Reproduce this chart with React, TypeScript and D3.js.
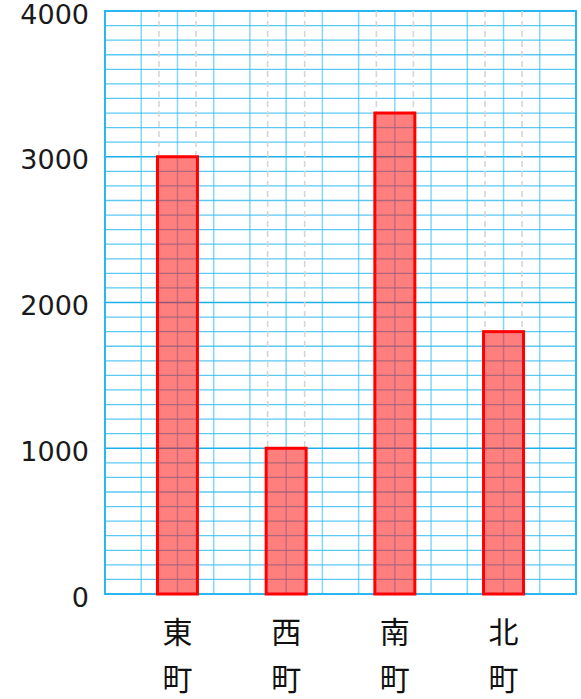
import React from "react";
import * as d3 from "d3";

const categories = ["東町", "西町", "南町", "北町"];
const values = [3000, 1000, 3300, 1800];
const yTicks = [0, 1000, 2000, 3000, 4000];
const minorStep = 100;

const W = 581;
const H = 699;
const M = { left: 105, right: 5, top: 11, bottom: 105 };

export default function App() {
  const x = d3
    .scalePoint<string>()
    .domain(categories)
    .range([M.left, W - M.right])
    .padding(2 / 3);
  const y = d3.scaleLinear().domain([0, 4000]).range([H - M.bottom, M.top]);
  const cell = x.step() / 3;
  const nCells = Math.round((W - M.right - M.left) / cell);
  const vLines = d3.range(nCells + 1).map((i) => M.left + i * cell);
  const hLines = d3.range(0, 4000 + minorStep, minorStep);
  const barW = 40;
  const dashOff = 18.5;
  const lineColor = "#33bcf0";

  return (
    <svg
      width={W}
      height={H}
      style={{ position: "absolute", left: 0, top: 0, background: "#fff" }}
    >
      {/* grid */}
      <g>
        {hLines.map((v) => (
          <line
            key={"h" + v}
            x1={M.left}
            x2={W - M.right}
            y1={y(v)}
            y2={y(v)}
            stroke={v % 1000 === 0 ? "#1eaee8" : lineColor}
            strokeOpacity={v % 1000 === 0 ? 1 : 0.8}
            strokeWidth={v % 1000 === 0 ? 1.7 : 1.3}
          />
        ))}
        {vLines.map((xv, i) => (
          <line
            key={"v" + i}
            x1={xv}
            x2={xv}
            y1={M.top}
            y2={H - M.bottom}
            stroke={lineColor}
            strokeOpacity={0.6}
            strokeWidth={1.5}
          />
        ))}
        {/* border */}
        <rect
          x={M.left}
          y={M.top}
          width={W - M.right - M.left}
          height={H - M.bottom - M.top}
          fill="none"
          stroke="#2ab6ee"
          strokeWidth={2}
        />
      </g>
      {/* dashed guide lines */}
      {categories.map((c, i) => (
        <g key={"d" + c}>
          {[-dashOff, dashOff].map((o) => (
            <line
              key={o}
              x1={(x(c) as number) + o}
              x2={(x(c) as number) + o}
              y1={M.top}
              y2={y(values[i])}
              stroke="#d6d6d6"
              strokeWidth={1.6}
              strokeDasharray="6 4"
            />
          ))}
        </g>
      ))}
      {/* bars */}
      {categories.map((c, i) => (
        <rect
          key={"b" + c}
          x={(x(c) as number) - barW / 2}
          y={y(values[i])}
          width={barW}
          height={y(0) - y(values[i])}
          fill="rgba(255,0,0,0.5)"
          stroke="#ff0000"
          strokeWidth={3}
        />
      ))}
      {/* y labels */}
      {yTicks.map((t) => (
        <text
          key={"y" + t}
          x={89}
          y={y(t) + 3}
          textAnchor="end"
          dominantBaseline="central"
          fontFamily="DejaVu Sans, sans-serif"
          fontSize={27}
          fill="#1a1a1a"
        >
          {t}
        </text>
      ))}
      {/* x labels (vertical) */}
      {categories.map((c) => (
        <g key={"x" + c}>
          {Array.from(c).map((ch, j) => (
            <text
              key={j}
              x={x(c) as number}
              y={630 + j * 47}
              textAnchor="middle"
              dominantBaseline="central"
              fontFamily="Noto Sans CJK JP, sans-serif"
              fontSize={30}
              fill="#111"
            >
              {ch}
            </text>
          ))}
        </g>
      ))}
    </svg>
  );
}
